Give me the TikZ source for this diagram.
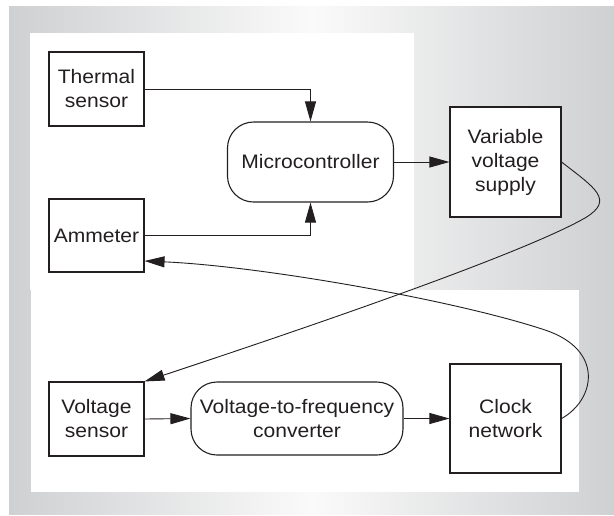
\documentclass[tikz,border=0pt]{standalone}
\usepackage{fontspec}
\setmainfont{Liberation Sans}[FakeStretch=1.08]
\usetikzlibrary{arrows.meta}
\definecolor{bggray}{HTML}{CFD0D2}
\definecolor{bgmid}{HTML}{FAFAFA}
\definecolor{ink}{HTML}{231F20}
\begin{document}
\begin{tikzpicture}[x=1pt,y=-1pt,
  blk/.style={draw=ink,fill=white,line width=1.1pt,inner sep=0pt,align=center,text=ink,
    font=\fontsize{19.5}{24}\selectfont},
  rblk/.style={blk,rounded corners=26pt},
  conn/.style={draw=ink,line width=0.9pt,-{Triangle[length=20pt,width=11pt]}}]
\useasboundingbox (0,0) rectangle (614,515);
% background
\shade[left color=bggray,right color=bggray,middle color=bgmid] (9,6) rectangle (614,514);
\fill[white] (30,33) rectangle (414,290);
\fill[white] (31,290) rectangle (579,492);
% blocks
\node[blk,minimum width=95pt,minimum height=74pt] (thermal) at (96.5,89) {Thermal\\sensor};
\node[blk,minimum width=95pt,minimum height=73pt] (amm) at (96.5,235.5) {Ammeter};
\node[rblk,minimum width=166pt,minimum height=80pt] (micro) at (310.5,162) {Microcontroller};
\node[blk,minimum width=111pt,minimum height=110pt] (vvs) at (505.5,162) {Variable\\voltage\\supply};
\node[blk,minimum width=95pt,minimum height=74pt] (vs) at (96.5,419) {Voltage\\sensor};
\node[rblk,minimum width=212pt,minimum height=73pt] (vtf) at (297,418.5) {Voltage-to-frequency\\converter};
\node[blk,minimum width=111pt,minimum height=109pt] (clock) at (505.5,418.5) {Clock\\network};
% connectors
\draw[conn] (thermal.east) -| (micro.north);
\draw[conn] (amm.east) -| (micro.south);
\draw[conn] (micro.east) -- (vvs.west);
\draw[conn] (vs.east) -- (vtf.west);
\draw[conn] (vtf.east) -- (clock.west);
\coordinate (ka) at (585,218);
\draw[conn] (vvs.east) .. controls (595,188) and (615,200) .. (ka)
  .. controls (520,255) and (300,330) .. (vs.north east);
\coordinate (kb) at (545,330);
\draw[conn] (clock.east) .. controls (595,400) and (605,350) .. (kb)
  .. controls (455,300) and (260,266) .. ([yshift=-25.5pt]amm.east);
\end{tikzpicture}
\end{document}
